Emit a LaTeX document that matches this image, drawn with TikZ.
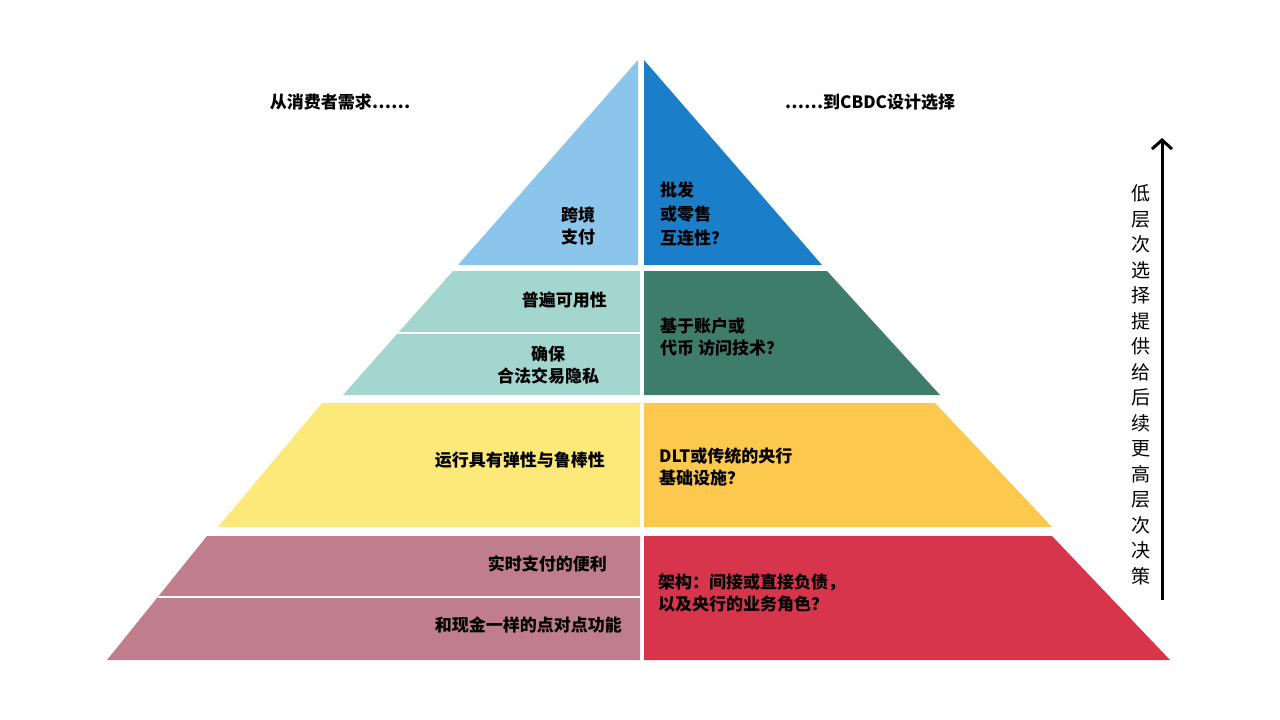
\documentclass[tikz,border=0pt]{standalone}
\usepackage{fontspec}
\setmainfont{Noto Sans CJK SC}
\usetikzlibrary{arrows.meta}
\definecolor{lblue}{HTML}{8CC5EC}
\definecolor{dblue}{HTML}{1A7FC8}
\definecolor{lteal}{HTML}{A3D6CF}
\definecolor{dteal}{HTML}{3F7D6B}
\definecolor{lyell}{HTML}{FCE97A}
\definecolor{dyell}{HTML}{FCC84E}
\definecolor{lmauve}{HTML}{C07E8C}
\definecolor{dred}{HTML}{D6354B}
\tikzset{lab/.style={font=\fontsize{17}{22}\selectfont\bfseries, align=left, inner sep=0pt},
 labr/.style={lab, align=right}}
\begin{document}
\begin{tikzpicture}[x=1pt,y=-1pt]
\useasboundingbox (0,0) rectangle (1280,720);
% top triangle
\fill[lblue] (638,60) -- (638,265) -- (458,265) -- cycle;
\fill[dblue] (644,60) -- (822,265) -- (644,265) -- cycle;
% second band
\fill[lteal] (640,271) -- (453,271) -- (343,395) -- (640,395) -- cycle;
\fill[dteal] (644,271) -- (827,271) -- (940,395) -- (644,395) -- cycle;
\draw[white, line width=2] (398,333) -- (640,333);
% third band
\fill[lyell] (640,403) -- (322,403) -- (218,527) -- (640,527) -- cycle;
\fill[dyell] (644,403) -- (935,403) -- (1052,527) -- (644,527) -- cycle;
% bottom band
\fill[lmauve] (640,536) -- (207,536) -- (107,660) -- (640,660) -- cycle;
\fill[dred] (644,536) -- (1052,536) -- (1170,660) -- (644,660) -- cycle;
\draw[white, line width=2] (158,597) -- (640,597);
% headings
\node[lab] (hl) at (340,102) {从消费者需求……};
\node[lab] (hr) at (870,102) {……到CBDC设计选择};
% left labels
\node[lab, align=center] (l1) at (578,226) {跨境\\支付};
\node[labr, anchor=east] (l2) at (607,300) {普遍可用性};
\node[lab, align=center] (l3) at (548,365) {确保\\合法交易隐私};
\node[labr, anchor=east] (l4) at (605,460) {运行具有弹性与鲁棒性};
\node[labr, anchor=east] (l5) at (607,564) {实时支付的便利};
\node[labr, anchor=east] (l6) at (622,625) {和现金一样的点对点功能};
% right labels
\node[lab, anchor=west, font=\fontsize{17}{24}\selectfont\bfseries] (r1) at (660,214) {批发\\或零售\\互连性？};
\node[lab, anchor=west] (r2) at (660,337) {基于账户或\\代币 访问技术？};
\node[lab, anchor=west] (r3) at (659,467) {DLT或传统的央行\\基础设施？};
\node[lab, anchor=west] (r4) at (658,593) {架构：间接或直接负债，\\以及央行的业务角色？};
% side arrow
\coordinate (abot) at (1162,600);
\coordinate (atop) at (1162,138);
\draw[line width=3, -{Straight Barb[length=9pt,width=20pt]}] (abot) -- (atop);
\node[inner sep=0pt, align=center, font=\fontsize{19}{25.5}\selectfont] (side) at (1141,385)
 {低\\层\\次\\选\\择\\提\\供\\给\\后\\续\\更\\高\\层\\次\\决\\策};
\end{tikzpicture}
\end{document}
